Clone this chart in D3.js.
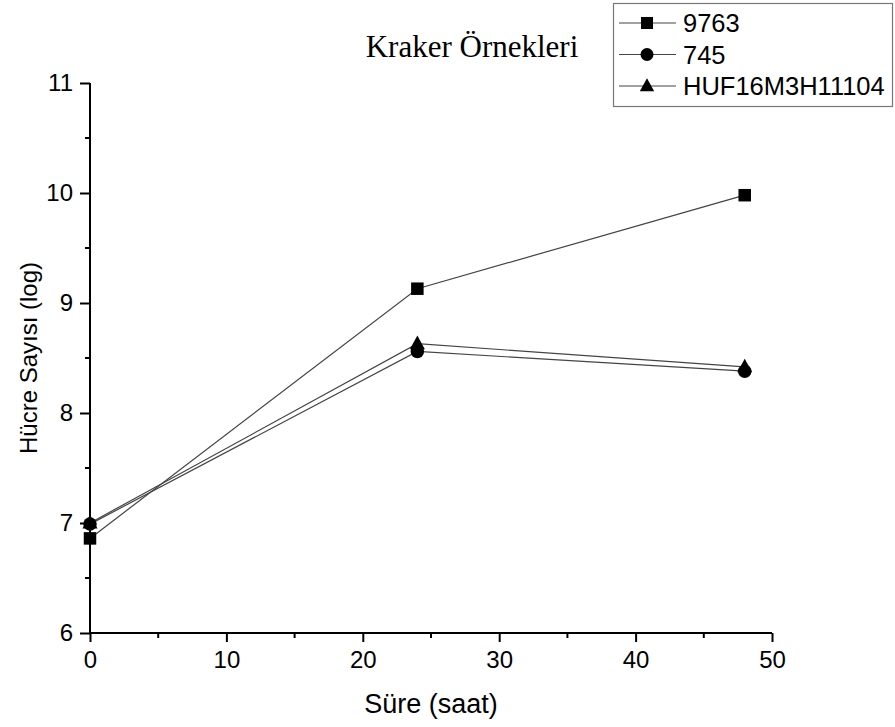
<!DOCTYPE html>
<html>
<head>
<meta charset="utf-8">
<script src="https://cdn.jsdelivr.net/npm/d3@7"></script>
<style>
  html, body { margin: 0; padding: 0; background: #fff; }
  svg { display: block; }
</style>
</head>
<body>
<svg id="chart" width="895" height="727"></svg>
<script>
// Growth data: log cell counts over time (hours)
const hours = [0, 24, 48];
const seriesNames = ["9763", "745", "HUF16M3H11104"];
const values9763 = [6.86, 9.13, 9.98];
const values745 = [6.99, 8.56, 8.38];
const valuesHUF = [7.00, 8.63, 8.42];
const markerTypes = ["square", "circle", "triangle"];
const xTicks = [0, 10, 20, 30, 40, 50];
const yTicks = [6, 7, 8, 9, 10, 11];

const series = [values9763, values745, valuesHUF].map((vals, i) => ({
  name: seriesNames[i],
  marker: markerTypes[i],
  points: hours.map((h, j) => ({ x: h, y: vals[j] }))
}));

const svg = d3.select("#chart");
const margin = { left: 90, right: 123, top: 83, bottom: 94 };
const W = 895, H = 727;

const x = d3.scaleLinear().domain([0, 50]).range([margin.left, W - margin.right]);
const y = d3.scaleLinear().domain([6, 11]).range([H - margin.bottom, margin.top]);

const fontSans = "Arial, 'Liberation Sans', sans-serif";
const tickFont = 24;

// X axis with major ticks and minor ticks in between
const xAxis = d3.axisBottom(x).tickValues(xTicks).tickSize(9).tickPadding(9).tickFormat(d3.format("d"));
const gx = svg.append("g").attr("transform", `translate(0,${y(6)})`).call(xAxis);
gx.select(".domain").attr("stroke-width", 2).attr("d", `M${x(0)},0H${x(50)}`);
gx.selectAll(".tick line").attr("stroke-width", 2);
gx.selectAll(".tick text").attr("font-family", fontSans).attr("font-size", tickFont).attr("fill", "#000");
svg.append("g").selectAll("line")
  .data([5, 15, 25, 35, 45]).join("line")
  .attr("x1", d => x(d)).attr("x2", d => x(d))
  .attr("y1", y(6)).attr("y2", y(6) + 5)
  .attr("stroke", "#000").attr("stroke-width", 2);

// Y axis
const yAxis = d3.axisLeft(y).tickValues(yTicks).tickSize(10).tickPadding(7).tickFormat(d3.format("d"));
const gy = svg.append("g").attr("transform", `translate(${x(0)},0)`).call(yAxis);
gy.select(".domain").attr("stroke-width", 2).attr("d", `M0,${y(6)}V${y(11)}`);
gy.selectAll(".tick line").attr("stroke-width", 2);
gy.selectAll(".tick text").attr("font-family", fontSans).attr("font-size", tickFont).attr("fill", "#000");
svg.append("g").selectAll("line")
  .data([6.5, 7.5, 8.5, 9.5, 10.5]).join("line")
  .attr("x1", x(0)).attr("x2", x(0) - 5)
  .attr("y1", d => y(d)).attr("y2", d => y(d))
  .attr("stroke", "#000").attr("stroke-width", 2);

// Axis titles
svg.append("text")
  .attr("x", (x(0) + x(50)) / 2).attr("y", 713)
  .attr("text-anchor", "middle")
  .attr("font-family", fontSans).attr("font-size", 27)
  .text("Süre (saat)");
svg.append("text")
  .attr("transform", `translate(37,${(y(6) + y(11)) / 2}) rotate(-90)`)
  .attr("text-anchor", "middle")
  .attr("font-family", fontSans).attr("font-size", 24)
  .text("Hücre Sayısı (log)");

// Chart title
svg.append("text")
  .attr("x", 472).attr("y", 57)
  .attr("text-anchor", "middle")
  .attr("font-family", "'Times New Roman', 'Liberation Serif', serif").attr("font-size", 31)
  .text("Kraker Örnekleri");

// Marker drawing helper
function drawMarker(g, type, cx, cy, s) {
  if (type === "square") {
    g.append("rect").attr("x", cx - s / 2).attr("y", cy - s / 2)
      .attr("width", s).attr("height", s).attr("fill", "#000");
  } else if (type === "circle") {
    g.append("circle").attr("cx", cx).attr("cy", cy).attr("r", s / 2 + 0.5).attr("fill", "#000");
  } else {
    const h = s * 1.05;
    g.append("path")
      .attr("d", `M${cx},${cy - h * 0.62}L${cx + s * 0.6},${cy + h * 0.42}L${cx - s * 0.6},${cy + h * 0.42}Z`)
      .attr("fill", "#000");
  }
}

// Series lines then markers
const line = d3.line().x(d => x(d.x)).y(d => y(d.y));
const plot = svg.append("g");
series.forEach(s => {
  plot.append("path").datum(s.points)
    .attr("d", line).attr("fill", "none")
    .attr("stroke", "#444").attr("stroke-width", 1.2);
});
series.slice().reverse().forEach(s => {
  s.points.forEach(p => drawMarker(plot, s.marker, x(p.x), y(p.y), 12.5));
});

// Legend
const legend = svg.append("g");
legend.append("rect")
  .attr("x", 613.5).attr("y", 3.5).attr("width", 279).attr("height", 103)
  .attr("fill", "#fff").attr("stroke", "#777").attr("stroke-width", 1.2);
series.forEach((s, i) => {
  const ly = 23 + i * 31.5;
  legend.append("line").attr("x1", 619).attr("x2", 676).attr("y1", ly).attr("y2", ly)
    .attr("stroke", "#444").attr("stroke-width", 1.2);
  drawMarker(legend, s.marker, 647, ly, 12);
  legend.append("text")
    .attr("x", 683).attr("y", ly + 9)
    .attr("font-family", fontSans).attr("font-size", 25.5)
    .text(s.name);
});
</script>
</body>
</html>
